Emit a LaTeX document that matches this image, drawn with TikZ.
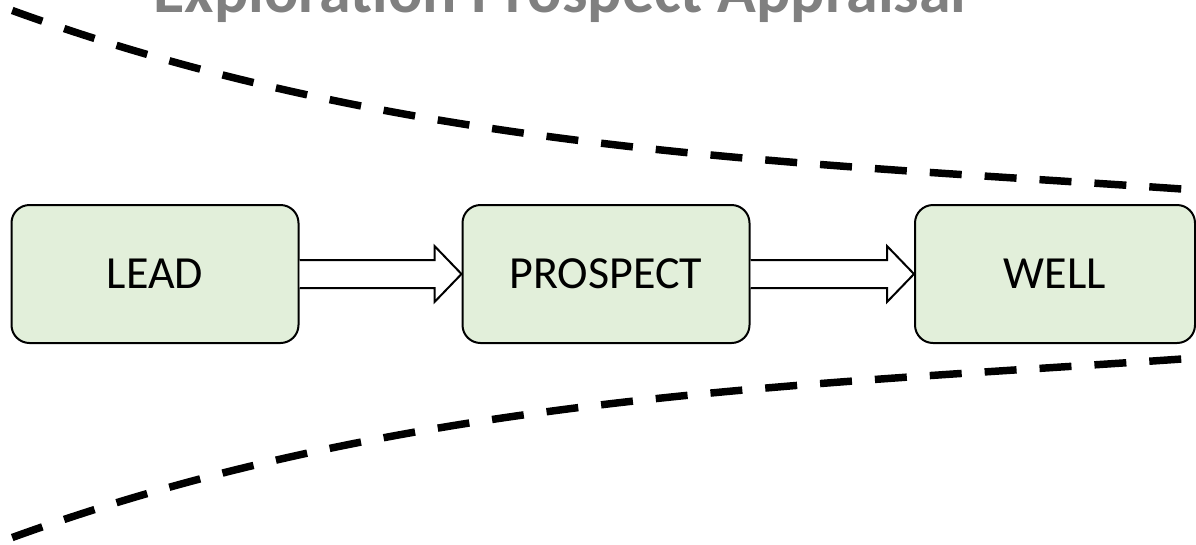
\documentclass[tikz,border=0pt]{standalone}
\usepackage{fontspec}
\setmainfont{Carlito}
\usetikzlibrary{calc}
\definecolor{boxgreen}{RGB}{226,239,218}
\definecolor{titlegray}{RGB}{128,128,128}

\begin{document}
\begin{tikzpicture}[x=0.75pt,y=-0.75pt,
  stage/.style={draw=black, line width=1.5pt, fill=boxgreen, rounded corners=13.5pt,
    minimum width=215.25pt, minimum height=103.5pt, font=\fontsize{34.5}{40}\selectfont},
  funnel/.style={line width=5.6pt, dash pattern=on 24pt off 17.25pt, dash phase=31.5pt},
  blockarrow/.style={draw=black, line width=1.5pt, fill=white, line join=miter}]
\useasboundingbox (0,0) rectangle (1196,544);
\clip (0,0) rectangle (1196,544);
% title, cut off at the top
\node[anchor=base, text=titlegray, font=\bfseries\fontsize{48}{56}\selectfont] (title) at (560,12) {Exploration Prospect Appraisal};
% funnel edges
\draw[funnel] (0,6) .. controls (400,154) and (800,162) .. (1196,190);
\draw[funnel] (0,542) .. controls (400,394) and (800,386) .. (1196,358);
% stages
\node[stage] (lead) at (155,274) {LEAD};
\node[stage] (prospect) at (606,274) {PROSPECT};
\node[stage, minimum width=210pt] (well) at (1055,274) {WELL};
% hollow arrows
\foreach \a/\b in {lead/prospect, prospect/well}
  \draw[blockarrow] ($(\a.east)+(0,-14)$) -- ($(\b.west)+(-27,-14)$) -- ($(\b.west)+(-27,-28)$)
    -- (\b.west) -- ($(\b.west)+(-27,28)$) -- ($(\b.west)+(-27,14)$) -- ($(\a.east)+(0,14)$);
\end{tikzpicture}
\end{document}
